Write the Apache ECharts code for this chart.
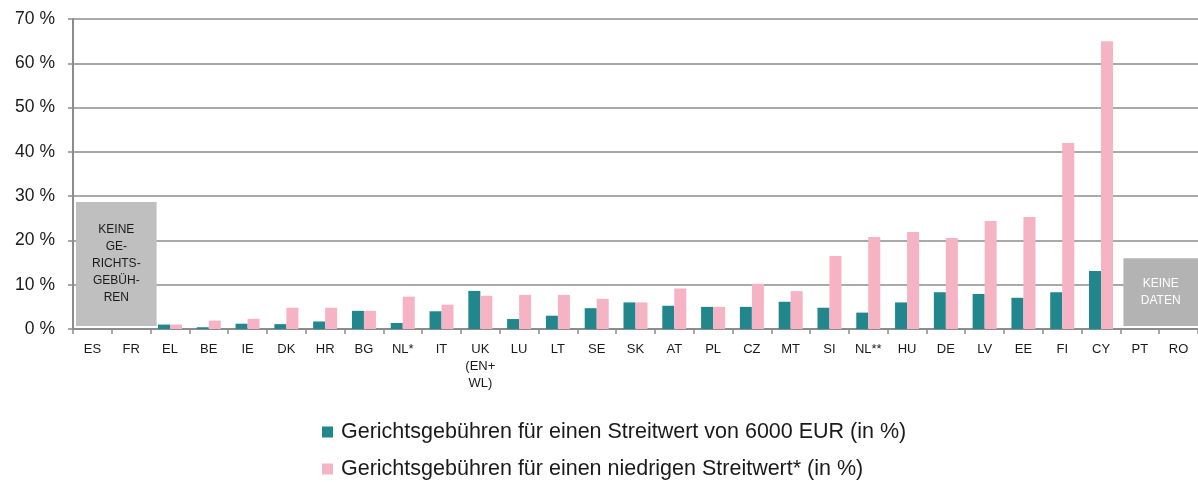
<!DOCTYPE html>
<html>
<head>
<meta charset="utf-8">
<script src="https://cdn.jsdelivr.net/npm/echarts@6/dist/echarts.min.js"></script>
<style>
  html, body { margin: 0; padding: 0; background: #fff; }
  #chart { width: 1198px; height: 482px; }
</style>
</head>
<body>
<div id="chart"></div>
<script>
var countries = ['ES', 'FR', 'EL', 'BE', 'IE', 'DK', 'HR', 'BG', 'NL*', 'IT', 'UK\n(EN+\nWL)',
  'LU', 'LT', 'SE', 'SK', 'AT', 'PL', 'CZ', 'MT', 'SI', 'NL**', 'HU', 'DE', 'LV', 'EE', 'FI', 'CY', 'PT', 'RO'];

// court fees for a claim of 6000 EUR (in %)
var fee6000 = [null, null, 1.0, 0.4, 1.2, 1.1, 1.7, 4.1, 1.35, 4.0, 8.6,
  2.25, 3.0, 4.7, 6.0, 5.25, 5.0, 5.0, 6.15, 4.8, 3.7, 6.0, 8.3, 7.9, 7.05, 8.3, 13.1, null, null];

// court fees for a low claim (in %)
var feeLow = [null, null, 1.0, 1.9, 2.3, 4.8, 4.8, 4.1, 7.3, 5.5, 7.5,
  7.7, 7.7, 6.8, 6.0, 9.15, 5.0, 10.2, 8.55, 16.5, 20.8, 21.9, 20.55, 24.4, 25.3, 42.0, 65.0, null, null];

var seriesNames = [
  'Gerichtsgebühren für einen Streitwert von 6000 EUR (in %)',
  'Gerichtsgebühren für einen niedrigen Streitwert* (in %)'
];

// grey notice boxes: first category, last category, top value, text
var boxFrom = [0, 27];
var boxTo = [1, 28];
var boxTop = [28.7, 16];
var boxText = ['KEINE\nGE-\nRICHTS-\nGEBÜH-\nREN', 'KEINE\nDATEN'];

var font = 'Liberation Sans, Arial, sans-serif';
var myChart = echarts.init(document.getElementById('chart'));

var option = {
  animation: false,
  grid: { left: 73, right: 0, top: 19, bottom: 153 },
  legend: {
    orient: 'vertical',
    left: 322,
    top: 421,
    padding: 0,
    itemGap: 15,
    itemWidth: 11,
    itemHeight: 11,
    icon: 'rect',
    data: seriesNames,
    textStyle: { fontFamily: font, fontSize: 21.5, color: '#1a1a1a', padding: [0, 0, 0, 3] }
  },
  xAxis: {
    type: 'category',
    data: countries,
    axisLine: { lineStyle: { color: '#8c8c8c', width: 2 } },
    axisTick: { show: true, length: 5, lineStyle: { color: '#8c8c8c', width: 1.5 } },
    axisLabel: {
      interval: 0, margin: 12,
      fontFamily: font, fontSize: 13, lineHeight: 17, color: '#1a1a1a'
    }
  },
  yAxis: {
    type: 'value',
    min: 0, max: 70, interval: 10,
    axisLine: { show: true, lineStyle: { color: '#8c8c8c', width: 2 } },
    axisTick: { show: true, length: 5, lineStyle: { color: '#8c8c8c', width: 1.5 } },
    splitLine: { lineStyle: { color: '#8c8c8c', width: 1.5 } },
    axisLabel: {
      margin: 18,
      formatter: '{value} %',
      fontFamily: font, fontSize: 17.5, color: '#1a1a1a'
    }
  },
  series: [
    {
      name: seriesNames[0],
      type: 'bar',
      data: fee6000,
      barWidth: 12,
      barGap: '0%',
      itemStyle: { color: '#21878d' }
    },
    {
      name: seriesNames[1],
      type: 'bar',
      data: feeLow,
      barWidth: 12,
      itemStyle: { color: '#f5b3c4' }
    },
    {
      type: 'custom',
      z: 5,
      data: boxFrom.map(function (f, i) { return [f, boxTo[i], boxTop[i], i]; }),
      encode: { x: [0, 1], y: 2 },
      renderItem: function (params, api) {
        var i = api.value(3);
        var p0 = api.coord([api.value(0), api.value(2)]);
        var p1 = api.coord([api.value(1), 0.7]);
        var w = api.size([1, 0])[0];
        var x0 = p0[0] - w / 2 + 3;
        var x1 = p1[0] + w / 2 + (i === 0 ? 6 : 0);
        var dark = i === 0;
        return {
          type: 'group',
          children: [
            {
              type: 'rect',
              shape: { x: x0, y: p0[1], width: x1 - x0, height: p1[1] - p0[1] },
              style: { fill: dark ? '#bfbfbf' : '#b3b3b3' }
            },
            {
              type: 'text',
              x: (x0 + x1) / 2,
              y: (p0[1] + p1[1]) / 2,
              style: {
                text: boxText[i],
                fill: dark ? '#1a1a1a' : '#ffffff',
                font: '12px ' + font,
                lineHeight: 17,
                align: 'center',
                verticalAlign: 'middle'
              }
            }
          ]
        };
      }
    }
  ]
};

myChart.setOption(option);
</script>
</body>
</html>
